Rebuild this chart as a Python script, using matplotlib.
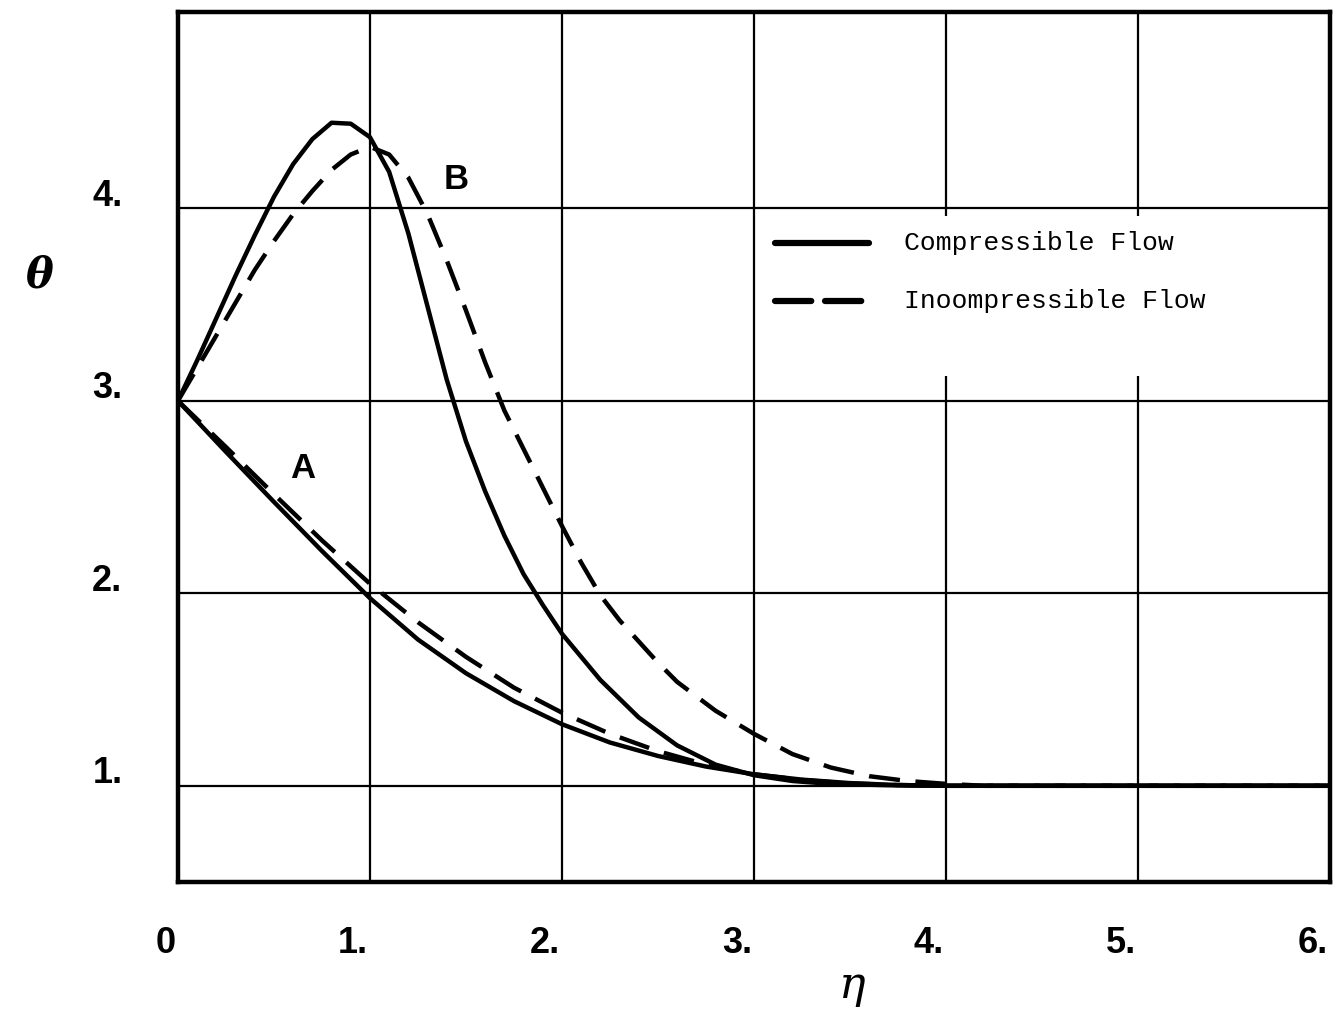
import matplotlib
matplotlib.use("Agg")
import matplotlib.pyplot as plt
import matplotlib.transforms as mtransforms
from matplotlib.patches import Rectangle

''' Data read off the figure
'''
# case B, compressible (solid)
eta_b_comp = [0, 0.1, 0.2, 0.3, 0.4, 0.5, 0.6, 0.7, 0.8, 0.9, 1.0, 1.1, 1.2, 1.3,
              1.4, 1.5, 1.6, 1.7, 1.8, 1.9, 2.0, 2.2, 2.4, 2.6, 2.8, 3.0, 3.2, 3.4,
              3.7, 4.0, 6.0]
theta_b_comp = [3.0, 3.21, 3.43, 3.65, 3.86, 4.06, 4.23, 4.36, 4.445, 4.44, 4.37, 4.19,
                3.87, 3.49, 3.11, 2.79, 2.53, 2.30, 2.10, 1.94, 1.79, 1.55, 1.355,
                1.21, 1.11, 1.055, 1.025, 1.01, 1.003, 1.0, 1.0]

# case B, incompressible (dashed)
eta_b_inc = [0, 0.1, 0.2, 0.3, 0.4, 0.5, 0.6, 0.7, 0.8, 0.9, 1.0, 1.1, 1.2, 1.3,
             1.4, 1.5, 1.6, 1.7, 1.8, 1.9, 2.0, 2.1, 2.2, 2.3, 2.4, 2.5, 2.6, 2.8,
             3.0, 3.2, 3.4, 3.6, 3.8, 4.0, 4.2, 6.0]
theta_b_inc = [3.0, 3.17, 3.34, 3.51, 3.68, 3.83, 3.97, 4.09, 4.20, 4.28, 4.32, 4.28,
               4.16, 3.97, 3.73, 3.47, 3.20, 2.95, 2.75, 2.55, 2.35, 2.16, 1.99, 1.86,
               1.75, 1.64, 1.54, 1.39, 1.27, 1.165, 1.095, 1.05, 1.025, 1.01, 1.0, 1.0]

# case A, compressible (solid)
eta_a_comp = [0, 0.25, 0.5, 0.75, 1.0, 1.25, 1.5, 1.75, 2.0, 2.25, 2.5, 2.75, 3.0,
              3.25, 3.5, 3.75, 4.0, 6.0]
theta_a_comp = [3.0, 2.735, 2.475, 2.22, 1.975, 1.76, 1.585, 1.44, 1.32, 1.225, 1.155,
                1.10, 1.06, 1.032, 1.014, 1.004, 1.0, 1.0]

# case A, incompressible (dashed)
eta_a_inc = [0, 0.25, 0.5, 0.75, 1.0, 1.25, 1.5, 1.75, 2.0, 2.25, 2.5, 2.75, 3.0,
             3.25, 3.5, 3.75, 4.0, 6.0]
theta_a_inc = [3.0, 2.76, 2.515, 2.275, 2.05, 1.85, 1.67, 1.51, 1.38, 1.27, 1.18,
               1.11, 1.06, 1.03, 1.012, 1.004, 1.0, 1.0]

x_ticks = [0, 1, 2, 3, 4, 5, 6]
x_labels = ["0", "1.", "2.", "3.", "4.", "5.", "6."]
y_ticks = [1, 2, 3, 4]
y_labels = ["1.", "2.", "3.", "4."]
legend_labels = ["Compressible Flow", "Inoompressible Flow"]


''' Figure
'''
fig = plt.figure(figsize=(13.42, 10.23), dpi=100)
ax = fig.add_axes([0.1326, 0.1378, 0.8584, 0.8504])
ax.set_xlim(0, 6)
ax.set_ylim(0.5, 5.02)

for x in x_ticks[1:-1]:
    ax.axvline(x, color="black", lw=1.6, zorder=1)
for y in y_ticks:
    ax.axhline(y, color="black", lw=1.6, zorder=1)

# white area behind the legend
ax.add_patch(Rectangle((3.02, 3.13), 3.0, 0.83, facecolor="white",
                       edgecolor="none", zorder=2))

dash = (0, (7, 3.5))
ax.plot(eta_b_comp, theta_b_comp, color="black", lw=3.2, zorder=3)
ax.plot(eta_b_inc, theta_b_inc, color="black", lw=3.2, ls=dash, zorder=3)
ax.plot(eta_a_comp, theta_a_comp, color="black", lw=3.2, zorder=3)
ax.plot(eta_a_inc, theta_a_inc, color="black", lw=3.2, ls=dash, zorder=3)

ax.text(1.45, 4.15, "B", fontsize=25, fontweight="bold", family="Liberation Sans",
        ha="center", va="center")
ax.text(0.65, 2.65, "A", fontsize=25, fontweight="bold", family="Liberation Sans",
        ha="center", va="center")

# legend drawn by hand, like the original
ax.plot([3.11, 3.60], [3.82, 3.82], color="black", lw=4.5, solid_capstyle="round", zorder=3)
ax.plot([3.11, 3.60], [3.52, 3.52], color="black", lw=4.5, ls=(0, (5.8, 2.2)),
        dash_capstyle="round", zorder=3)
ax.text(3.78, 3.82, legend_labels[0], fontsize=19, family="Liberation Mono",
        va="center", ha="left")
ax.text(3.78, 3.52, legend_labels[1], fontsize=19, family="Liberation Mono",
        va="center", ha="left")

ax.set_xticks(x_ticks)
ax.set_xticklabels(x_labels, fontsize=26, fontweight="bold", family="Liberation Sans")
ax.set_yticks(y_ticks)
ax.set_yticklabels(y_labels, fontsize=26, fontweight="bold", family="Liberation Sans")
ax.tick_params(length=0)
ax.tick_params(axis="x", pad=32)
ax.tick_params(axis="y", pad=40)

off_x = mtransforms.ScaledTranslation(-2 / 100, 0, fig.dpi_scale_trans)
for lab in ax.get_xticklabels():
    lab.set_horizontalalignment("right")
    lab.set_transform(lab.get_transform() + off_x)
off_y = mtransforms.ScaledTranslation(0, 16 / 100, fig.dpi_scale_trans)
for lab in ax.get_yticklabels():
    lab.set_transform(lab.get_transform() + off_y)

for s in ax.spines.values():
    s.set_linewidth(3.2)

fig.text(40 / 1342, 1 - 275 / 1023, "θ", fontsize=30, fontweight="bold",
         fontstyle="italic", family="DejaVu Serif", ha="center", va="center")
fig.text(852 / 1342, 1 - 985 / 1023, "η", fontsize=32, fontstyle="italic",
         family="DejaVu Serif", ha="center", va="center")

fig.savefig("out.png", dpi=100)
